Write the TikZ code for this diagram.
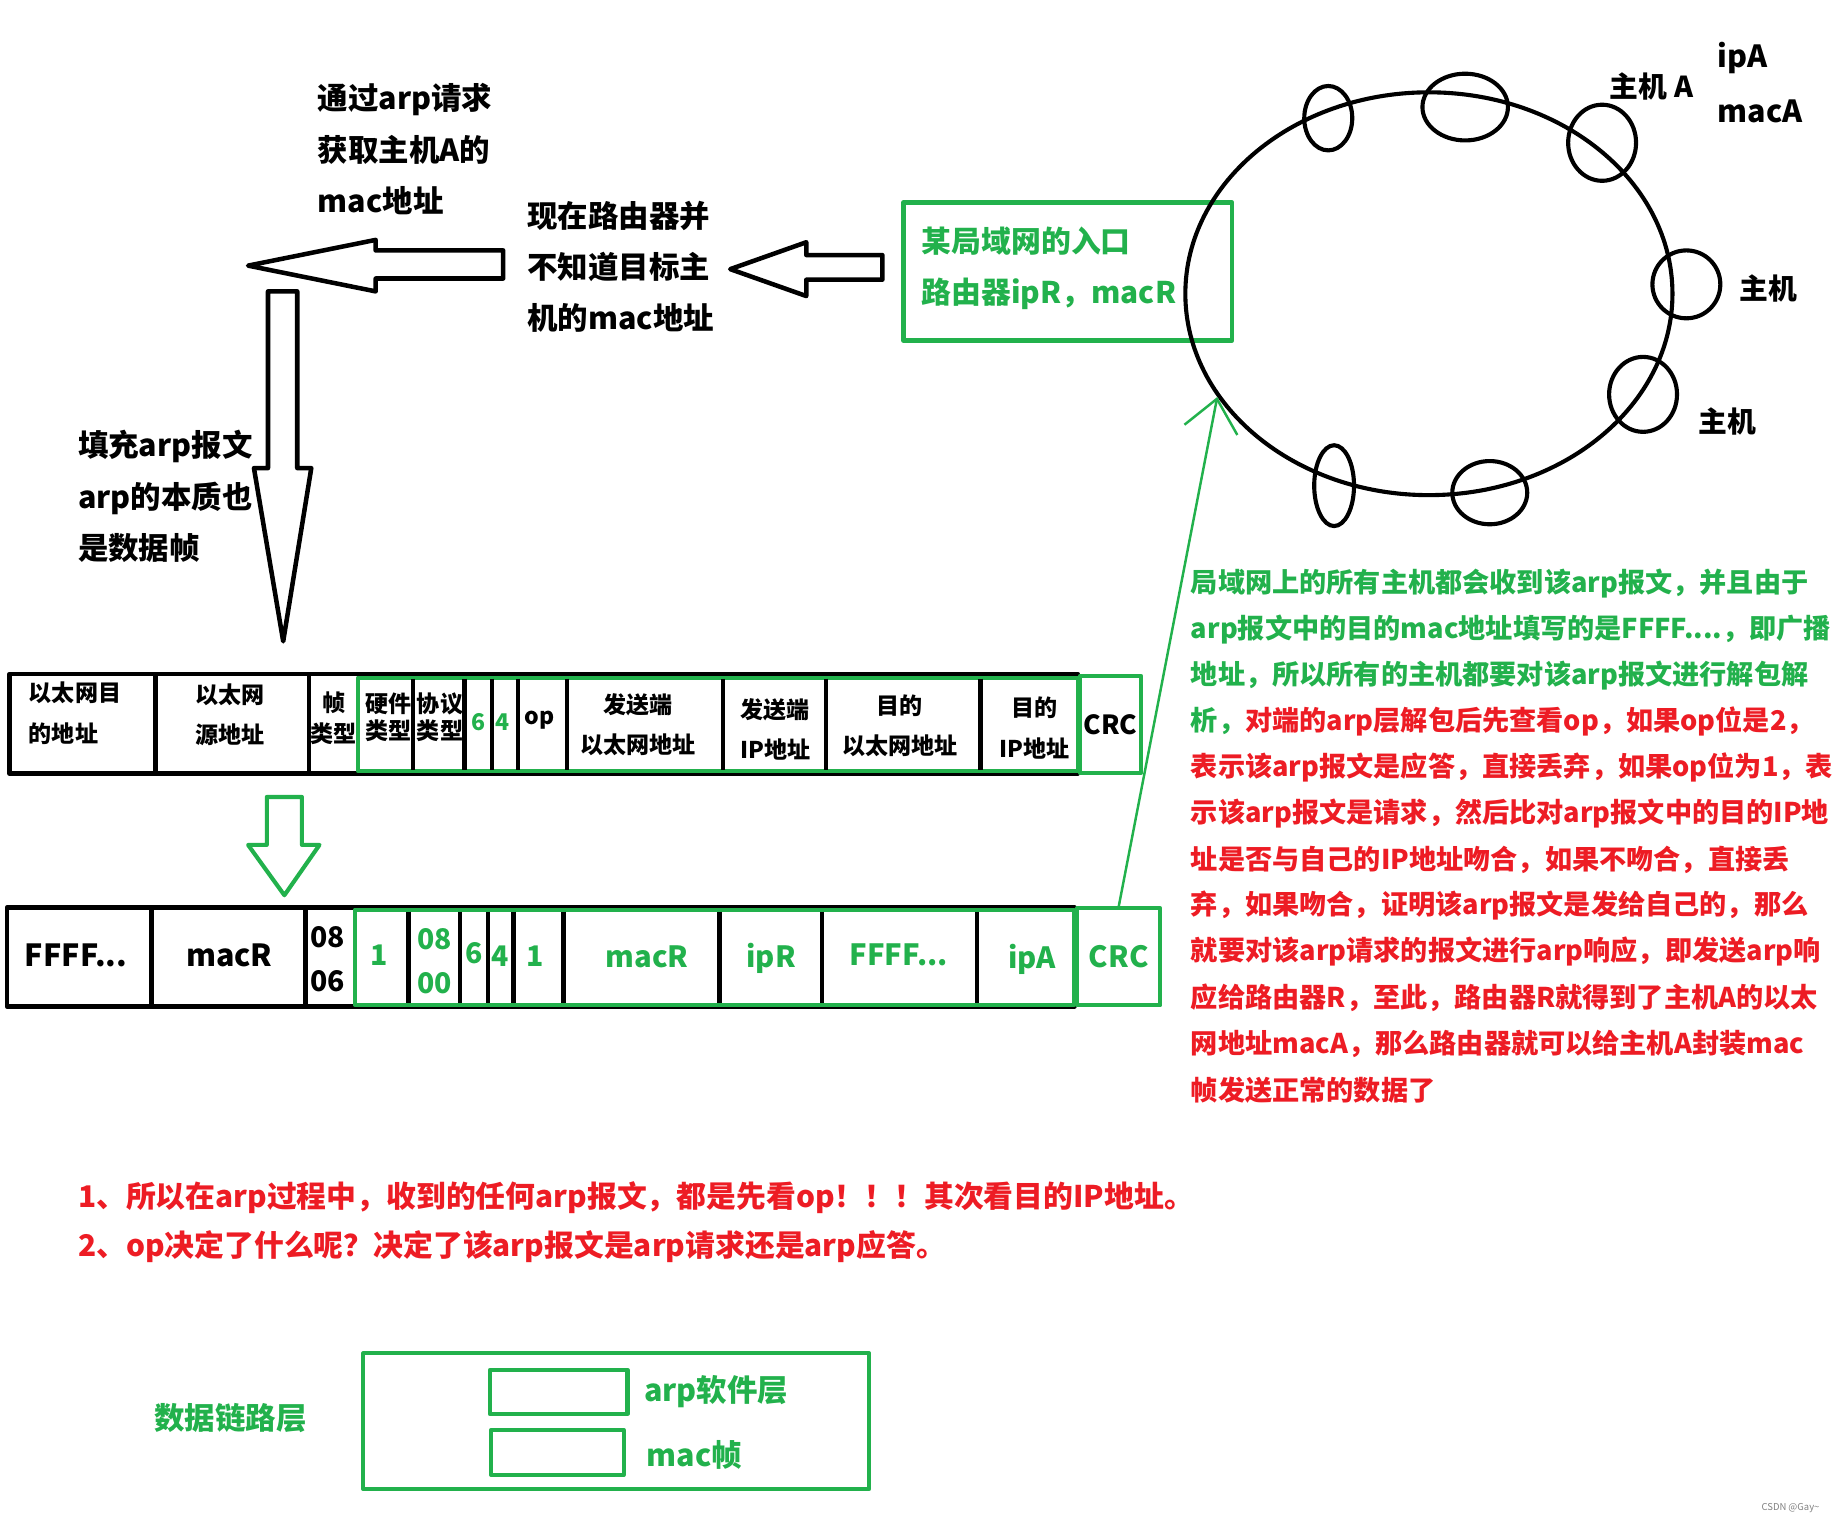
\documentclass[tikz,border=0pt]{standalone}
\usepackage{fontspec}
\setmainfont{Noto Sans CJK SC}
\usetikzlibrary{arrows.meta,shapes.geometric}
\definecolor{pgreen}{RGB}{34,177,76}
\definecolor{pred}{RGB}{237,28,36}

\begin{document}
\begin{tikzpicture}[x=0.01cm,y=-0.01cm,line join=round,
    blk/.style={draw=black,line width=1.1pt},
    grn/.style={draw=pgreen,line width=1pt},
    bigtxt/.style={inner sep=0pt,align=left,font=\bfseries\fontsize{7.4pt}{12.5pt}\selectfont},
    celltxt/.style={inner sep=0pt,align=center,font=\bfseries\fontsize{5.6pt}{9.8pt}\selectfont},
    valtxt/.style={inner sep=0pt,font=\bfseries\fontsize{7.4pt}{9pt}\selectfont},
    numtxt/.style={inner sep=0pt,align=center,font=\bfseries\fontsize{6.9pt}{11pt}\selectfont},
    paratxt/.style={inner sep=0pt,anchor=west,text=pred,font=\bfseries\fontsize{6.6pt}{9pt}\selectfont},
    host/.style={draw,ellipse,line width=1pt,inner sep=0pt}]

\useasboundingbox (0,0) rectangle (1568,1301);

% block arrows
\draw[blk] (212,227) -- (321,205) -- (321,214) -- (430,214) -- (430,238) -- (321,238) -- (321,249) -- cycle;
\draw[blk] (624,230) -- (689,207) -- (689,218) -- (754,218) -- (754,239) -- (689,239) -- (689,253) -- cycle;
\draw[blk] (229,249) -- (254,249) -- (254,400) -- (266,400) -- (242,548) -- (217,400) -- (229,400) -- cycle;
\draw[grn] (228,681) -- (258,681) -- (258,722) -- (273,722) -- (243,765) -- (212,722) -- (228,722) -- cycle;

% notes round the arrows
\node[bigtxt,anchor=west] (ask) at (271,127.5) {通过arp请求\\获取主机A的\\mac地址};
\node[bigtxt,anchor=west] (unknown) at (450,228) {现在路由器并\\不知道目标主\\机的mac地址};
\node[bigtxt,anchor=west] (fill) at (66,424.3) {填充arp报文\\arp的本质也\\是数据帧};

% router
\draw[grn] (772,173) rectangle (1053,291);
\node[bigtxt,anchor=west,text=pgreen,font=\bfseries\fontsize{7.25pt}{12.3pt}\selectfont] (router) at (787,229.5) {某局域网的入口\\路由器ipR，macR};

% LAN ring and hosts
\node[host,minimum width=4.16cm,minimum height=3.44cm] (lan) at (1221,251) {};
\node[host,minimum width=0.41cm,minimum height=0.55cm] (h1) at (1135,101) {};
\node[host,minimum width=0.73cm,minimum height=0.57cm] (h2) at (1252,91.5) {};
\node[host,minimum width=0.58cm,minimum height=0.65cm] (h3) at (1369,122) {};
\node[host,minimum width=0.58cm,minimum height=0.58cm] (h4) at (1441,243) {};
\node[host,minimum width=0.58cm,minimum height=0.64cm] (h5) at (1404,337) {};
\node[host,minimum width=0.64cm,minimum height=0.54cm] (h6) at (1273,421) {};
\node[host,minimum width=0.34cm,minimum height=0.69cm] (h7) at (1140,415) {};
\node[bigtxt,anchor=west,font=\bfseries\fontsize{7pt}{9pt}\selectfont] (hostA) at (1375,74) {主机 A};
\node[bigtxt,anchor=west] (ipA) at (1467,50) {ipA};
\node[bigtxt,anchor=west] (macA) at (1467,95.4) {macA};
\node[bigtxt,anchor=west,font=\bfseries\fontsize{7pt}{9pt}\selectfont] (hostB) at (1486,246.4) {主机};
\node[bigtxt,anchor=west,font=\bfseries\fontsize{7pt}{9pt}\selectfont] (hostC) at (1451,360.3) {主机};

% arp frame fields
\draw[blk] (8,576) rectangle (921,661);
\foreach \x in {133,264} \draw[blk] (\x,576) -- (\x,661);
\draw[grn] (306,579) rectangle (921,659);
\foreach \x in {353,397,420.5,442.5,484.5,618,706,838} \draw[blk] (\x,580) -- (\x,658);
\node[grn,minimum width=0.52cm,minimum height=0.83cm,font=\bfseries\fontsize{6.4pt}{8pt}\selectfont,inner sep=0pt] (crc1) at (949,619) {CRC};
\node[celltxt,anchor=west,align=left] (dstmac) at (24,609.5) {以太网目\\的地址};
\node[celltxt] (srcmac) at (196.7,611) {以太网\\源地址};
\node[celltxt] (ftype) at (285.4,613.5) {帧\\[-2.3pt]类型};
\node[celltxt] (hwtype) at (332,613) {硬件\\[-3.3pt]类型};
\node[celltxt] (prtype) at (376,613) {协议\\[-3.3pt]类型};
\node[celltxt,text=pgreen] (hwlen) at (408.6,616.7) {6};
\node[celltxt,text=pgreen] (prlen) at (429.6,616.7) {4};
\node[celltxt] (op) at (461,615) {op};
\node[celltxt] (smac) at (545,619.5) {发送端\\以太网地址};
\node[celltxt] (sip) at (662.5,623.5) {发送端\\IP地址};
\node[celltxt] (dmac) at (769,620.3) {目的\\以太网地址};
\node[celltxt] (dip) at (884,622) {目的\\IP地址};

% filled request
\draw[blk] (6,775.5) rectangle (918,860);
\foreach \x in {129.4,261} \draw[blk] (\x,775.5) -- (\x,860);
\draw[grn] (303,777.5) rectangle (918,858.5);
\foreach \x in {349,393,417,439,481.3,614.6,702.4,834.8} \draw[blk] (\x,779) -- (\x,857);
\node[grn,minimum width=0.71cm,minimum height=0.83cm,text=pgreen,font=\bfseries\fontsize{7.1pt}{8pt}\selectfont,inner sep=0pt] (crc2) at (956,817.6) {CRC};
\node[valtxt] (bcast) at (65,816) {FFFF...};
\node[valtxt] (macR) at (196,816) {macR};
\node[numtxt] (ftval) at (280,819.6) {08\\[-0.5pt]06};
\node[numtxt,text=pgreen] (hwval) at (324,816) {1};
\node[numtxt,text=pgreen] (prval) at (371.6,821) {08\\[-0.3pt]00};
\node[numtxt,text=pgreen] (hlval) at (405.3,814.6) {6};
\node[numtxt,text=pgreen] (plval) at (427.3,817.5) {4};
\node[numtxt,text=pgreen] (opval) at (457.6,817.5) {1};
\node[valtxt,text=pgreen,font=\bfseries\fontsize{7.1pt}{9pt}\selectfont] (smacval) at (553,817.5) {macR};
\node[valtxt,text=pgreen,font=\bfseries\fontsize{7.1pt}{9pt}\selectfont] (sipval) at (659,819) {ipR};
\node[valtxt,text=pgreen,font=\bfseries\fontsize{7.1pt}{9pt}\selectfont] (dmacval) at (768,816) {FFFF...};
\node[valtxt,text=pgreen,font=\bfseries\fontsize{7.1pt}{9pt}\selectfont] (dipval) at (882,820) {ipA};

\draw[draw=pgreen,line width=0.6pt,-{Straight Barb[length=0.27cm,width=0.46cm]}] (crc2.north) -- (lan.206);

% explanation
\foreach \ln [count=\i from 0] in {
  {\textcolor{pgreen}{局域网上的所有主机都会收到该arp报文，并且由于}},
  {\textcolor{pgreen}{arp报文中的目的mac地址填写的是FFFF....，即广播}},
  {\textcolor{pgreen}{地址，所以所有的主机都要对该arp报文进行解包解}},
  {\textcolor{pgreen}{析，}对端的arp层解包后先查看op，如果op位是2，},
  {表示该arp报文是应答，直接丢弃，如果op位为1，表},
  {示该arp报文是请求，然后比对arp报文中的目的IP地},
  {址是否与自己的IP地址吻合，如果不吻合，直接丢},
  {弃，如果吻合，证明该arp报文是发给自己的，那么},
  {就要对该arp请求的报文进行arp响应，即发送arp响},
  {应给路由器R，至此，路由器R就得到了主机A的以太},
  {网地址macA，那么路由器就可以给主机A封装mac},
  {帧发送正常的数据了}}
  \node[paratxt] (note\i) at (1017,{498.5+39.35*\i}) {\ln};

\node[bigtxt,anchor=west,text=pred,font=\bfseries\fontsize{7.25pt}{9pt}\selectfont] (sum1) at (66,1023) {1、所以在arp过程中，收到的任何arp报文，都是先看op！！！其次看目的IP地址。};
\node[bigtxt,anchor=west,text=pred,font=\bfseries\fontsize{7.25pt}{9pt}\selectfont] (sum2) at (66,1065.3) {2、op决定了什么呢？决定了该arp报文是arp请求还是arp应答。};

% data link layer
\node[bigtxt,text=pgreen] (dll) at (197,1212) {数据链路层};
\draw[grn] (310.5,1156.5) rectangle (742.7,1272.5);
\draw[grn] (418.7,1170.6) rectangle (536.2,1208.3);
\draw[grn] (419.6,1221.9) rectangle (532.9,1260.4);
\node[bigtxt,anchor=west,text=pgreen] (arplayer) at (549.7,1189) {arp软件层};
\node[bigtxt,anchor=west,text=pgreen] (maclayer) at (551.8,1243) {mac帧};

\node[inner sep=0pt,text=gray,font=\fontsize{2.3pt}{3pt}\selectfont] (mark) at (1530,1289) {CSDN @Gay\textasciitilde};
\end{tikzpicture}
\end{document}
